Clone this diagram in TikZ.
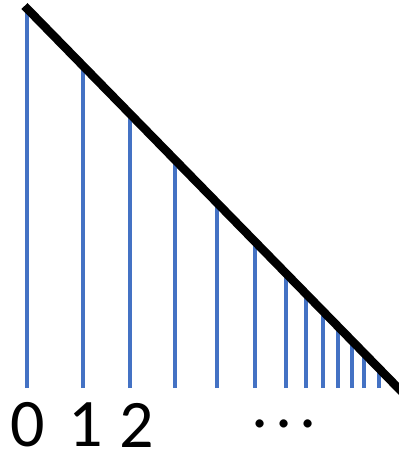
\documentclass[tikz,border=0pt]{standalone}
\usepackage{fontspec}
\setmainfont{Carlito}
\definecolor{officeblue}{HTML}{4472C4}
\tikzset{
  bar/.style={draw=officeblue, line width=4.3pt},
  diag/.style={draw=black, line width=8.5pt},
  lbl/.style={font=\fontsize{68}{68}\selectfont, inner sep=0pt, anchor=center}
}
\begin{document}
\begin{tikzpicture}[x=1pt,y=-1pt]
\useasboundingbox (0,0) rectangle (399,456);
\foreach \i/\x in {0/27,1/83,2/130,3/175,4/217,5/255,6/286,7/306,8/323,9/338,10/352,11/364,12/379}{
  \coordinate (t\i) at (\x,{9+(\x-27)*1.024});
  \coordinate (b\i) at (\x,388);
  \draw[bar] (b\i) -- (t\i);
}
\coordinate (dA) at (24.5,6);
\coordinate (dB) at (404,394);
\begin{scope}
\clip (0,0) rectangle (399,456);
\draw[diag] (dA) -- (dB);
\end{scope}
\node[lbl] (n0) at (28,425) {0};
\node[lbl] (n1) at (86,425) {1};
\node[lbl] (n2) at (137,425) {2};
\node[lbl, anchor=base] (dots) at (284,427) {.\kern7pt.\kern7pt.};
\end{tikzpicture}
\end{document}
